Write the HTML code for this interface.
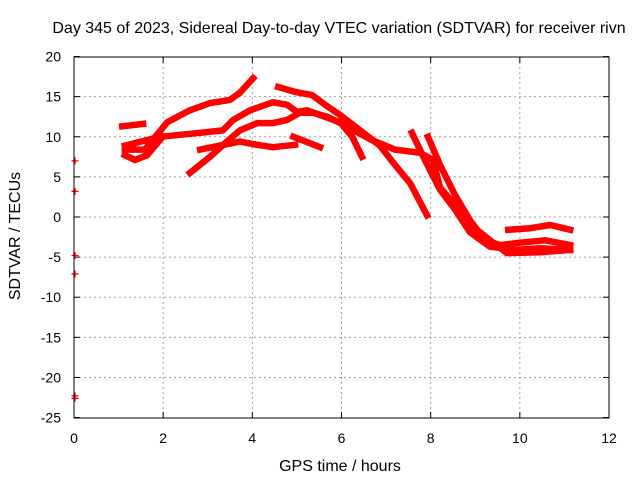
<!DOCTYPE html>
<html><head><meta charset="utf-8"><style>
body{margin:0;background:#fff}
svg text{font-family:"Liberation Sans",sans-serif;font-size:14px;fill:#000}
svg text.ttl{font-size:16px}
</style></head><body>
<svg id="chart" width="640" height="480" xmlns="http://www.w3.org/2000/svg">
<rect width="640" height="480" fill="#fff"/>
<text class="ttl" x="339" y="33" text-anchor="middle">Day 345 of 2023, Sidereal Day-to-day VTEC variation (SDTVAR) for receiver rivn</text>
<text class="ttl" x="340" y="471" text-anchor="middle">GPS time / hours</text>
<text class="ttl" transform="translate(20,236) rotate(-90)" text-anchor="middle">SDTVAR / TECUs</text>
<g id="grid"></g>
<g id="axes"></g>
<g id="series"></g>
<rect x="74" y="57" width="535" height="361" fill="none" stroke="#000" stroke-width="1"/>
</svg>
<script>
const xTicks=[0,2,4,6,8,10,12];
const yTicks=[20,15,10,5,0,-5,-10,-15,-20,-25];
const trackHours=[
[1.08,1.55],
[1.14,1.59,2.09,2.60,3.05,3.50,3.72,4.02],
[1.14,1.93,2.83,3.34,3.57,3.95,4.46,4.78,5.00,5.23,5.52,5.97,6.24,6.46],
[1.14,1.37,1.64,1.93],
[2.60,3.05,3.43,3.72,4.11,4.46,4.78,5.07,5.36,5.68,5.97,6.68,7.20,7.76,8.05,8.21,8.59,8.95,9.40,9.71,10.45,11.13],
[2.83,3.72,4.11,4.46,4.96],
[4.92,5.52],
[4.58,4.96,5.34,5.63,5.97,6.42,6.86,7.20,7.54,7.92],
[7.58,7.87,8.21,8.55,8.88,9.33,9.89,10.45,11.13],
[7.94,8.21,8.55,8.88,9.22,9.56,10.00,10.57,11.13],
[9.74,10.23,10.68,11.13]
];
const trackValues=[
[11.3,11.6],
[8.4,8.4,11.8,13.3,14.2,14.6,15.5,17.3],
[8.9,10.0,10.5,10.8,12.1,13.3,14.3,14.0,13.1,13.3,12.7,11.8,10.0,7.5],
[7.7,7.1,7.7,9.6],
[5.5,7.5,9.4,10.8,11.7,11.7,12.1,13.0,13.0,12.5,11.7,9.6,8.4,8.0,7.1,3.7,1.2,-1.2,-3.2,-4.5,-4.4,-4.1],
[8.4,9.4,9.0,8.7,9.0],
[10.0,8.7],
[16.2,15.6,15.2,14.0,12.7,10.8,8.9,6.5,4.2,0.2],
[10.5,7.1,3.4,0.9,-1.9,-3.7,-4.1,-3.9,-4.1],
[10.0,6.5,2.7,-0.4,-2.9,-3.5,-3.2,-2.9,-3.5],
[-1.6,-1.4,-1.0,-1.6]
];
const markerHours=[0,0,0,0,0,0];
const markerValues=[7.0,3.2,-4.8,-7.1,-22.3,-22.6];
const xScale=h=>74+h*(535/12);
const yScale=v=>217-v*(361/45);
const NS="http://www.w3.org/2000/svg";
function mk(tag,attrs,parent){const e=document.createElementNS(NS,tag);for(const k in attrs)e.setAttribute(k,attrs[k]);parent.appendChild(e);return e;}
const grid=document.getElementById('grid'),axes=document.getElementById('axes'),series=document.getElementById('series');
xTicks.forEach(t=>{const x=xScale(t);
 if(t>0&&t<12){const g=mk('line',{x1:x,x2:x,y1:57,y2:418,stroke:'#a0a0a0','stroke-dasharray':'2,3'},grid);
 
 }
 mk('line',{x1:x,x2:x,y1:418,y2:412,stroke:'#000'},axes);
 mk('line',{x1:x,x2:x,y1:57,y2:63,stroke:'#000'},axes);
 const l=mk('text',{x:x,y:443,'text-anchor':'middle'},axes);l.textContent=t;
 
 });
yTicks.forEach(t=>{const y=yScale(t);
 if(t<20&&t>-25){const g=mk('line',{x1:74,x2:609,y1:y,y2:y,stroke:'#a0a0a0','stroke-dasharray':'2,3'},grid);
 
 }
 mk('line',{x1:74,x2:80,y1:y,y2:y,stroke:'#000'},axes);
 mk('line',{x1:609,x2:603,y1:y,y2:y,stroke:'#000'},axes);
 const l=mk('text',{x:61,y:y+5,'text-anchor':'end'},axes);l.textContent=t;
 
 });
trackHours.forEach((hs,i)=>{
 const pts=hs.map((h,j)=>xScale(h).toFixed(1)+','+yScale(trackValues[i][j]).toFixed(1)).join(' ');
 const p=mk('polyline',{points:pts,fill:'none',stroke:'#ff0000','stroke-width':6.5,'stroke-linejoin':'round','stroke-linecap':'square'},series);
 
 });
markerHours.forEach((h,i)=>{const x=xScale(h)+1,y=yScale(markerValues[i]);
 const m=mk('path',{d:`M${x-3.5},${y}H${x+3.5}M${x},${y-3.5}V${y+3.5}`,stroke:'#ff0000','stroke-width':1.3},series);
 
 });
</script>
</body></html>
